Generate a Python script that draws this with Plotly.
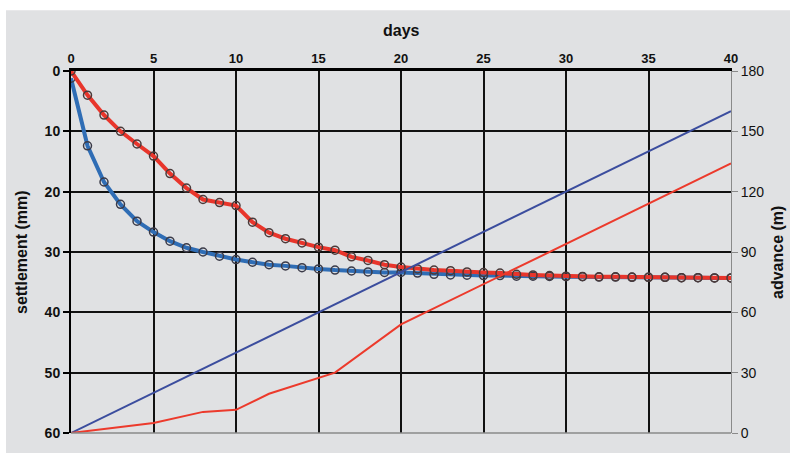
import plotly.graph_objects as go

days = list(range(0, 41))
settle_blue = [1.2, 12.4, 18.4, 22.1, 24.9, 26.7, 28.2, 29.3, 30.0, 30.7,
               31.25, 31.7, 32.1, 32.3, 32.6, 32.8, 33.0, 33.15, 33.3, 33.4,
               33.4, 33.5, 33.7, 33.8, 33.85, 33.9, 33.9, 34.0, 34.0, 34.05,
               34.1, 34.1, 34.15, 34.15, 34.2, 34.2, 34.2, 34.25, 34.25, 34.3, 34.3]
settle_red = [0.0, 4.0, 7.3, 10.0, 12.1, 14.1, 17.0, 19.4, 21.3, 21.8,
              22.3, 25.05, 26.8, 27.8, 28.5, 29.2, 29.7, 30.8, 31.4, 32.1,
              32.5, 32.8, 33.0, 33.1, 33.3, 33.4, 33.5, 33.7, 33.8, 33.9,
              34.0, 34.05, 34.1, 34.1, 34.15, 34.2, 34.2, 34.25, 34.25, 34.3, 34.3]
adv_blue_days = [0, 40]
adv_blue = [0, 160]
adv_red_days = [0, 5, 8, 10, 12, 15, 16, 20, 40]
adv_red = [0, 5, 10.5, 11.5, 19.5, 27.5, 30, 54, 134]

x_ticks = [0, 5, 10, 15, 20, 25, 30, 35, 40]
y_ticks = [0, 10, 20, 30, 40, 50, 60]
y2_ticks = [0, 30, 60, 90, 120, 150, 180]

BG = "#e0e1e3"
FONT = "Liberation Sans, Arial, sans-serif"
W, H = 790, 453
ML, MR, MT, MB = 71, 59, 71, 13
PW, PH = W - ML - MR, H - MT - MB

fig = go.Figure()
fig.add_trace(go.Scatter(x=adv_blue_days, y=adv_blue, yaxis="y2", mode="lines",
                         line=dict(color="#3b4d9e", width=2), showlegend=False))
fig.add_trace(go.Scatter(x=adv_red_days, y=adv_red, yaxis="y2", mode="lines",
                         line=dict(color="#ec3a2c", width=2), showlegend=False))
fig.add_trace(go.Scatter(x=days, y=settle_blue, mode="lines+markers",
                         line=dict(color="#2f6db5", width=4),
                         marker=dict(symbol="circle-open", size=8, color="#3a3a48",
                                     line=dict(width=1.5, color="#3a3a48")),
                         showlegend=False))
fig.add_trace(go.Scatter(x=days, y=settle_red, mode="lines+markers",
                         line=dict(color="#e8352b", width=4),
                         marker=dict(symbol="circle-open", size=8, color="#4a3a3a",
                                     line=dict(width=1.5, color="#4a3a3a")),
                         showlegend=False))

fig.update_layout(
    width=W, height=H,
    margin=dict(l=ML, r=MR, t=MT, b=MB),
    paper_bgcolor=BG, plot_bgcolor=BG,
    font=dict(family=FONT, color="#111111"),
    xaxis=dict(side="top", range=[0, 40], tickvals=x_ticks,
               showgrid=True, gridcolor="#111111", gridwidth=2,
               zeroline=False, showline=True, linecolor="#000000", linewidth=3,
               ticks="", tickfont=dict(size=13, weight="bold", family=FONT)),
    yaxis=dict(range=[60, 0], tickvals=y_ticks,
               showgrid=True, gridcolor="#111111", gridwidth=2,
               zeroline=False, showline=True, linecolor="#000000", linewidth=2,
               ticks="outside", ticklen=6, tickwidth=2, tickcolor="#000000",
               tickfont=dict(size=14, weight="bold", family=FONT)),
    yaxis2=dict(range=[0, 180], tickvals=y2_ticks, overlaying="y", side="right",
                showgrid=False, zeroline=False, showline=True,
                linecolor="#8a8a8a", linewidth=1,
                ticks="outside", ticklen=6, tickwidth=1, tickcolor="#8a8a8a",
                tickfont=dict(size=14, family=FONT)),
    shapes=[
        dict(type="line", xref="paper", yref="paper", x0=0, x1=1, y0=0, y1=0,
             line=dict(color="#8a8a8a", width=1.5), layer="above"),
        dict(type="rect", xref="paper", yref="paper", x0=-0.2, x1=1.2,
             y0=(H - MB - 9) / PH, y1=1.3, fillcolor="white", line=dict(width=0),
             layer="below"),
        dict(type="rect", xref="paper", yref="paper", x0=-0.2, x1=-(ML - 6) / PW,
             y0=-0.2, y1=1.3, fillcolor="white", line=dict(width=0), layer="below"),
    ],
    annotations=[
        dict(text="<b>days</b>", xref="paper", yref="paper", x=0.5, y=(H - MB - 30) / PH,
             xanchor="center", yanchor="middle", showarrow=False,
             font=dict(size=16, family=FONT, color="#111111")),
        dict(text="<b>settlement (mm)</b>", xref="paper", yref="paper",
             x=-50 / PW, y=0.5, xanchor="center", yanchor="middle", textangle=-90,
             showarrow=False, font=dict(size=16, family=FONT, color="#111111")),
        dict(text="<b>advance (m)</b>", xref="paper", yref="paper",
             x=(777 - ML) / PW, y=0.5, xanchor="center", yanchor="middle", textangle=-90,
             showarrow=False, font=dict(size=16, family=FONT, color="#111111")),
    ],
)

fig.write_html("out.html")
